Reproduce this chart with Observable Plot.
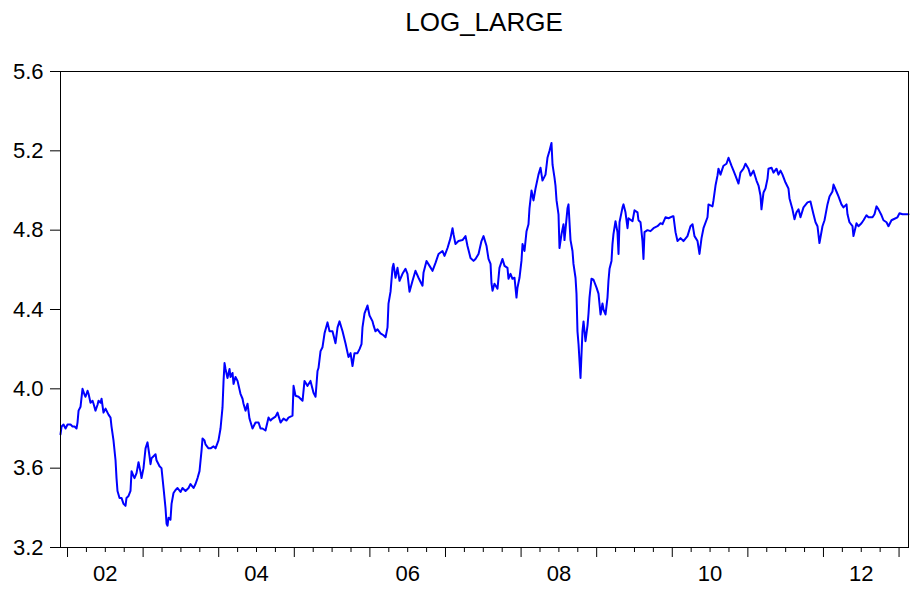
<!DOCTYPE html>
<html><head><meta charset="utf-8">
<script src="https://cdn.jsdelivr.net/npm/d3@7"></script>
<script src="https://cdn.jsdelivr.net/npm/@observablehq/plot@0.6"></script>
<style>
body{margin:0;background:#fff;font-family:'Liberation Sans',Arial,sans-serif;}
#title{margin-left:60px;width:848px;height:44px;line-height:44px;text-align:center;font-size:26px;color:#000;}
</style></head><body>
<div id="title"></div>
<div id="chart"></div>
<script>
const title = "LOG_LARGE";

// decimal-year dates of the daily series
const dates = [
2001.907,2001.921,2001.947,2001.974,2002.000,2002.040,2002.066,2002.093,2002.119,2002.132,
2002.146,2002.172,2002.198,2002.225,2002.238,2002.265,2002.278,2002.304,2002.331,2002.344,
2002.370,2002.397,2002.410,2002.437,2002.450,2002.476,2002.503,2002.516,2002.542,2002.569,
2002.582,2002.608,2002.635,2002.648,2002.661,2002.688,2002.714,2002.741,2002.767,
2002.780,2002.807,2002.833,2002.847,2002.873,2002.886,2002.913,2002.939,2002.966,2002.979,
2003.005,2003.032,2003.058,2003.085,2003.098,2003.111,2003.138,2003.164,2003.177,2003.204,
2003.217,2003.243,2003.270,2003.296,2003.310,2003.323,2003.336,2003.362,2003.376,
2003.402,2003.429,2003.455,2003.495,2003.521,2003.561,2003.601,2003.627,2003.667,
2003.693,2003.720,2003.746,2003.773,2003.786,2003.812,2003.825,2003.865,2003.892,2003.931,
2003.958,2003.997,2004.024,2004.050,2004.064,2004.077,2004.090,2004.116,2004.143,
2004.156,2004.183,2004.196,2004.222,2004.249,2004.288,2004.315,2004.328,2004.355,
2004.381,2004.407,2004.447,2004.474,2004.487,2004.527,2004.553,2004.579,2004.619,2004.659,
2004.685,2004.712,2004.751,2004.778,2004.818,2004.857,2004.897,2004.923,2004.950,2004.976,
2004.990,2005.016,2005.056,2005.082,2005.109,2005.135,2005.175,2005.214,2005.254,
2005.281,2005.307,2005.320,2005.347,2005.373,2005.400,2005.439,2005.466,2005.505,2005.545,
2005.572,2005.598,2005.638,2005.677,2005.717,2005.744,2005.770,2005.796,2005.836,2005.863,
2005.889,2005.902,2005.929,2005.968,2005.995,2006.035,2006.048,2006.074,2006.101,
2006.140,2006.180,2006.207,2006.233,2006.246,2006.273,2006.299,2006.312,2006.339,
2006.365,2006.392,2006.431,2006.471,2006.497,2006.524,2006.564,2006.603,2006.643,2006.669,
2006.696,2006.709,2006.749,2006.789,2006.828,2006.868,2006.908,2006.960,2006.987,2007.027,
2007.066,2007.093,2007.106,2007.132,2007.172,2007.225,2007.265,2007.291,2007.331,2007.371,
2007.397,2007.437,2007.476,2007.503,2007.543,2007.569,2007.596,2007.609,2007.622,
2007.648,2007.688,2007.714,2007.754,2007.781,2007.820,2007.833,2007.860,2007.886,2007.913,
2007.939,2007.952,2007.979,2008.005,2008.019,2008.045,2008.072,2008.098,2008.111,
2008.138,2008.164,2008.191,2008.230,2008.257,2008.283,2008.323,2008.349,2008.376,2008.402,
2008.416,2008.442,2008.455,2008.469,2008.495,2008.508,2008.535,2008.561,2008.574,
2008.614,2008.627,2008.654,2008.680,2008.693,2008.720,2008.733,2008.746,2008.760,
2008.786,2008.812,2008.826,2008.852,2008.879,2008.892,2008.905,2008.931,2008.958,2008.998,
2009.024,2009.051,2009.077,2009.090,2009.117,2009.143,2009.156,2009.170,2009.196,
2009.209,2009.222,2009.249,2009.275,2009.289,2009.302,2009.342,2009.355,2009.381,2009.408,
2009.421,2009.474,2009.500,2009.540,2009.553,2009.580,2009.606,2009.619,2009.633,2009.672,
2009.712,2009.752,2009.804,2009.844,2009.871,2009.910,2009.950,2010.003,2010.016,2010.043,
2010.069,2010.109,2010.148,2010.201,2010.241,2010.268,2010.294,2010.334,2010.360,2010.387,
2010.413,2010.466,2010.479,2010.532,2010.545,2010.572,2010.598,2010.611,2010.638,
2010.664,2010.678,2010.717,2010.744,2010.783,2010.810,2010.836,2010.876,2010.902,2010.942,
2010.969,2011.008,2011.035,2011.074,2011.114,2011.141,2011.167,2011.180,2011.207,
2011.233,2011.260,2011.273,2011.313,2011.339,2011.379,2011.405,2011.432,2011.458,2011.498,
2011.537,2011.551,2011.590,2011.617,2011.643,2011.670,2011.696,2011.736,2011.789,
2011.828,2011.868,2011.895,2011.921,2011.947,2011.987,2012.014,2012.053,2012.080,2012.119,
2012.133,2012.172,2012.199,2012.238,2012.265,2012.305,2012.318,2012.344,2012.384,
2012.397,2012.437,2012.463,2012.503,2012.530,2012.569,2012.596,2012.649,2012.675,2012.702,
2012.728,2012.768,2012.794,2012.834,2012.860,2012.900,2012.927,2012.979,2013.006,2013.046,2013.085,2013.125
];

const values = [
3.77,3.81,3.82,3.80,3.82,3.82,3.81,3.81,3.80,3.83,
3.89,3.91,4.00,3.97,3.96,3.99,3.975,3.93,3.94,3.925,
3.89,3.92,3.94,3.93,3.95,3.88,3.90,3.89,3.87,3.855,
3.81,3.74,3.64,3.55,3.485,3.45,3.45,3.42,3.41,
3.45,3.46,3.485,3.585,3.56,3.55,3.575,3.63,3.58,3.55,
3.60,3.70,3.73,3.66,3.62,3.65,3.66,3.67,3.64,3.62,
3.61,3.60,3.50,3.40,3.32,3.31,3.35,3.34,3.42,
3.475,3.49,3.50,3.48,3.50,3.485,3.50,3.52,3.50,
3.52,3.55,3.585,3.69,3.75,3.74,3.72,3.70,3.70,3.71,
3.70,3.74,3.80,3.905,4.04,4.13,4.10,4.055,4.10,
4.06,4.08,4.025,4.06,4.04,3.975,3.95,3.925,3.89,
3.925,3.85,3.80,3.82,3.83,3.83,3.80,3.80,3.79,3.855,
3.84,3.85,3.86,3.88,3.83,3.85,3.84,3.855,3.86,3.865,
4.015,3.965,3.96,3.95,3.94,4.04,4.015,4.04,3.98,
3.96,4.09,4.105,4.19,4.21,4.28,4.335,4.29,4.29,4.23,
4.31,4.34,4.29,4.23,4.16,4.18,4.115,4.18,4.18,4.20,
4.225,4.31,4.38,4.42,4.37,4.34,4.32,4.29,4.30,
4.28,4.27,4.26,4.31,4.43,4.49,4.61,4.63,4.56,
4.61,4.545,4.58,4.605,4.58,4.49,4.545,4.595,4.56,4.54,
4.52,4.585,4.645,4.62,4.595,4.635,4.68,4.695,4.67,4.71,
4.76,4.81,4.78,4.73,4.745,4.75,4.77,4.72,4.66,4.645,
4.655,4.68,4.745,4.77,4.72,4.655,4.63,4.53,4.495,
4.53,4.505,4.61,4.655,4.62,4.61,4.555,4.58,4.555,4.56,
4.46,4.51,4.56,4.645,4.73,4.695,4.795,4.83,4.91,
5.00,4.95,5.01,5.08,5.115,5.05,5.08,5.165,5.20,5.24,
5.13,5.065,5.025,4.95,4.88,4.71,4.78,4.83,4.75,
4.91,4.93,4.75,4.695,4.63,4.56,4.48,4.29,4.225,
4.055,4.29,4.34,4.24,4.32,4.38,4.46,4.555,4.55,4.51,
4.48,4.375,4.43,4.40,4.375,4.46,4.545,4.605,4.645,
4.73,4.78,4.845,4.79,4.68,4.84,4.915,4.93,4.89,4.81,
4.86,4.845,4.90,4.89,4.85,4.84,4.745,4.655,4.79,4.80,
4.795,4.81,4.82,4.835,4.83,4.865,4.86,4.87,4.87,4.79,
4.745,4.76,4.745,4.77,4.82,4.83,4.77,4.745,4.68,4.76,
4.81,4.865,4.93,4.92,4.95,5.025,5.075,5.11,5.08,
5.11,5.125,5.135,5.165,5.125,5.10,5.075,5.035,5.09,5.11,
5.135,5.11,5.075,5.10,5.05,5.025,4.975,4.905,4.99,
5.01,5.06,5.11,5.115,5.09,5.11,5.08,5.10,5.08,5.04,
5.01,4.96,4.905,4.855,4.89,4.905,4.865,4.915,4.94,
4.945,4.88,4.84,4.82,4.735,4.82,4.85,4.93,4.97,4.995,
5.03,4.995,4.97,4.93,4.915,4.93,4.88,4.84,4.82,
4.77,4.835,4.82,4.835,4.85,4.875,4.865,4.865,4.88,4.92,
4.905,4.875,4.85,4.84,4.82,4.85,4.855,4.865,4.885,4.88,4.88,4.88
];

const xDomain = [2001.907, 2013.125];
const yTicks = [3.2, 3.6, 4.0, 4.4, 4.8, 5.2, 5.6];
const yearTicks = [2002, 2003, 2004, 2005, 2006, 2007, 2008, 2009, 2010, 2011, 2012, 2013];
const labelYears = [2002, 2004, 2006, 2008, 2010, 2012];
const labelText = ["02", "04", "06", "08", "10", "12"];

document.getElementById("title").textContent = title;

const rows = dates.map((d, i) => ({date: d, value: values[i]}));
const quarterTicks = yearTicks.slice(0, -1).flatMap(y => [y + 0.25, y + 0.5, y + 0.75]);
const labelPos = labelYears.map(y => y + 0.5);
const labelMap = new Map(labelPos.map((p, i) => [p, labelText[i]]));

const chart = Plot.plot({
  width: 914,
  height: 546,
  marginTop: 27,
  marginBottom: 43,
  marginLeft: 60,
  marginRight: 6,
  style: {fontFamily: "'Liberation Sans', Arial, sans-serif", fontSize: "22px", color: "#000", background: "#fff", overflow: "visible"},
  x: {domain: xDomain},
  y: {domain: [3.2, 5.6]},
  marks: [
    Plot.axisY(yTicks, {tickSize: 10, tickPadding: 7, tickFormat: d => d.toFixed(1), label: null, fontSize: 22}),
    Plot.axisX(yearTicks, {tickSize: 10, tickFormat: () => "", label: null}),
    Plot.axisX(quarterTicks, {tickSize: 5, tickFormat: () => "", label: null}),
    Plot.axisX(labelPos, {tickSize: 0, tickPadding: 18, tickFormat: d => labelMap.get(d), label: null, fontSize: 22}),
    Plot.line(rows, {x: "date", y: "value", stroke: "#0000ff", strokeWidth: 2}),
    Plot.frame({stroke: "#000", strokeWidth: 1})
  ]
});
document.getElementById("chart").appendChild(chart);
</script>
</body></html>
